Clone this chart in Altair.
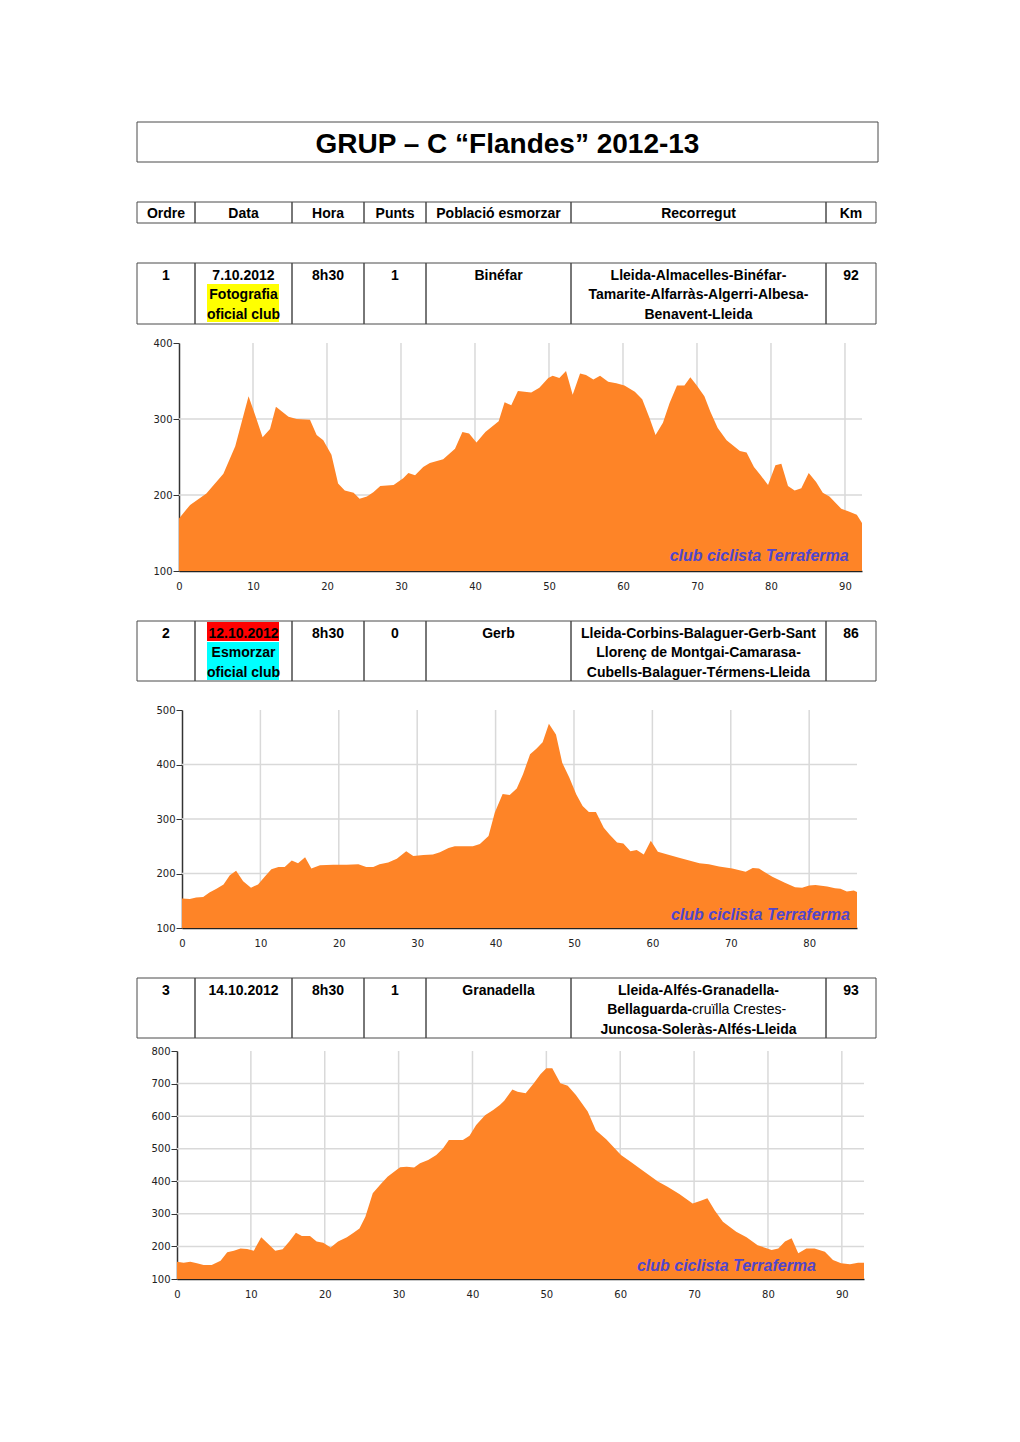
import altair as alt
import pandas as pd

# ---------------- data ----------------
title_text = "GRUP – C “Flandes” 2012-13"
header_labels = ["Ordre", "Data", "Hora", "Punts", "Població esmorzar", "Recorregut", "Km"]

ordre = ["1", "2", "3"]
dates = ["7.10.2012", "12.10.2012", "14.10.2012"]
date_notes = [["Fotografia", "oficial club"], ["Esmorzar", "oficial club"], []]
hores = ["8h30", "8h30", "8h30"]
punts = ["1", "0", "1"]
poblacions = ["Binéfar", "Gerb", "Granadella"]
recorreguts = [
    ["Lleida-Almacelles-Binéfar-", "Tamarite-Alfarràs-Algerri-Albesa-", "Benavent-Lleida"],
    ["Lleida-Corbins-Balaguer-Gerb-Sant", "Llorenç de Montgai-Camarasa-", "Cubells-Balaguer-Térmens-Lleida"],
    ["Lleida-Alfés-Granadella-", None, "Juncosa-Soleràs-Alfés-Lleida"],
]
rec3_mid_bold = "Bellaguarda-"
rec3_mid_regular = "cruïlla Crestes-"
kms = ["92", "86", "93"]
watermark = "club ciclista Terraferma"

route1_km = [0, 1.5, 3.7, 6.0, 7.6, 9.4, 10.3, 11.3, 12.3, 13.1, 14.8, 15.9, 17.7, 18.6, 19.5, 20.6,
             21.5, 22.4, 23.6, 24.4, 25.4, 26.3, 27.2, 29.0, 30.3, 31.0, 31.9, 33.0, 33.9, 35.7, 37.3,
             38.3, 39.2, 40.2, 41.4, 43.2, 44.0, 44.9, 45.8, 47.6, 48.7, 49.9, 50.5, 51.4, 52.3, 53.2,
             54.2, 55.0, 56.0, 56.9, 58.0, 59.1, 60.2, 61.6, 62.6, 63.6, 64.4, 65.4, 66.3, 67.3, 68.3,
             69.1, 69.9, 71.0, 71.8, 72.8, 74.0, 75.8, 76.7, 77.7, 78.6, 79.6, 80.6, 81.4, 82.3, 83.2,
             84.1, 85.1, 86.1, 87.0, 87.9, 89.5, 90.6, 91.6, 92.3]
route1_elev = [169, 187, 202, 228, 264, 330, 305, 276, 287, 316, 303, 300, 299, 279, 272, 253,
               215, 206, 203, 195, 198, 204, 212, 213, 222, 229, 226, 237, 242, 247, 261,
               283, 281, 269, 283, 297, 322, 318, 337, 335, 341, 354, 357, 354, 363, 332,
               360, 358, 352, 357, 349, 347, 344, 336, 326, 301, 279, 295, 321, 344, 344,
               355, 345, 330, 310, 288, 272, 258, 256, 237, 226, 213, 239, 241, 212, 206,
               209, 229, 217, 203, 198, 182, 178, 174, 163]

route2_km = [0, 1.0, 1.8, 2.7, 3.5, 4.4, 5.3, 6.1, 6.9, 7.8, 8.8, 9.7, 10.6, 11.4, 12.3, 13.1, 14.0,
             14.8, 15.7, 16.5, 17.6, 19.3, 21.0, 22.5, 23.5, 24.4, 25.2, 26.3, 27.4, 28.6, 29.5, 30.8,
             32.0, 32.9, 34.0, 34.8, 37.1, 38.0, 39.1, 39.9, 40.9, 41.8, 42.7, 43.5, 44.4, 45.2, 46.0,
             46.8, 47.7, 48.5, 49.4, 50.3, 51.1, 51.9, 52.8, 53.8, 54.5, 55.5, 56.3, 57.2, 58.0, 58.9,
             59.8, 60.7, 61.7, 63.4, 64.7, 66.0, 67.2, 68.5, 70.2, 71.9, 72.8, 73.6, 75.3, 76.9, 78.2,
             79.1, 80.0, 80.8, 82.3, 83.3, 84.0, 84.8, 85.7, 86.1]
route2_elev = [154, 153, 156, 157, 165, 172, 180, 197, 205, 186, 174, 180, 195, 208, 212, 212, 224,
               219, 230, 209, 215, 216, 216, 217, 212, 212, 217, 220, 227, 241, 232, 234,
               235, 239, 247, 250, 250, 254, 269, 312, 346, 344, 356, 382, 419, 429, 441,
               475, 455, 403, 376, 345, 324, 313, 313, 284, 272, 257, 255, 241, 243, 235,
               260, 240, 236, 229, 224, 219, 217, 213, 209, 203, 210, 209, 194, 183, 175,
               174, 178, 179, 176, 173, 172, 167, 169, 166]

route3_km = [0, 0.9, 1.8, 2.7, 3.6, 4.7, 5.9, 6.8, 7.7, 8.6, 9.5, 10.4, 11.4, 12.4, 13.3, 14.3, 15.2,
             16.1, 16.9, 18.0, 18.9, 19.8, 20.8, 21.8, 23.0, 23.9, 24.7, 25.5, 26.5, 27.5, 28.5, 29.7,
             30.2, 31.1, 32.1, 32.9, 34.0, 35.1, 36.0, 36.8, 38.7, 39.6, 40.5, 41.7, 42.8, 43.7, 44.3,
             45.4, 46.1, 47.2, 48.3, 49.2, 50.0, 50.8, 51.9, 52.9, 54.0, 55.6, 56.7, 58.1, 60.1, 61.4,
             62.8, 65.1, 66.4, 68.0, 69.8, 70.9, 71.8, 72.8, 73.9, 75.7, 77.1, 78.6, 80.5, 81.4, 82.3,
             83.2, 84.1, 85.2, 86.3, 87.7, 88.8, 89.9, 91.1, 92.2, 93.0]
route3_elev = [153, 150, 153, 148, 143, 143, 156, 182, 187, 194, 192, 187, 228, 207, 187, 191, 215,
               242, 232, 232, 215, 211, 197, 215, 228, 242, 255, 291, 363, 389, 414, 435,
               443, 445, 442, 455, 465, 481, 501, 527, 527, 540, 573, 603, 619, 634, 647,
               682, 675, 670, 701, 729, 747, 747, 701, 693, 665, 614, 557, 529, 481, 460,
               437, 399, 383, 361, 332, 340, 348, 310, 276, 245, 228, 204, 189, 194, 215,
               225, 179, 194, 194, 184, 158, 148, 145, 150, 150]

# ---------------- style / layout ----------------
FONT = "Liberation Sans, Arial, sans-serif"
ORANGE = "#FE8427"
GRID = "#D9D9D9"
INK = "#222222"
BORDER = "#4a4a4a"
WM_COLOR = "#5046CC"
HL = {"yellow": "#FFFF00", "red": "#FF0000", "cyan": "#00FFFF"}
row_highlights = [{1: "yellow", 2: "yellow"}, {0: "red", 1: "cyan", 2: "cyan"}, {}]

COL_EDGES = [0, 58, 155, 227, 289, 434, 689, 739]
COL_CENTERS = [(a + b) / 2 for a, b in zip(COL_EDGES[:-1], COL_EDGES[1:])]
LINE_BASE = [16.5, 36, 55.5]
LINE_BAND = [(1, 20), (21, 40), (40, 59)]
HL_X = (70, 142)
SPLIT_X = 555
FS = 14

SECTIONS = [
    dict(km=route1_km, elev=route1_elev, xmax=92.3, ymin=100, ymax=400,
         yticks=[100, 200, 300, 400], ygrid=[200, 300], xgrid=list(range(10, 91, 10)),
         xticks=list(range(0, 91, 10)), wm=(90.5, 113), off=42, W=683, H=228, dy=-80, th=61),
    dict(km=route2_km, elev=route2_elev, xmax=86.1, ymin=100, ymax=500,
         yticks=[100, 200, 300, 400, 500], ygrid=[200, 300, 400], xgrid=list(range(10, 81, 10)),
         xticks=list(range(0, 81, 10)), wm=(85.2, 115), off=45, W=675, H=218, dy=-89, th=60),
    dict(km=route3_km, elev=route3_elev, xmax=93.0, ymin=100, ymax=800,
         yticks=list(range(100, 801, 100)), ygrid=list(range(200, 701, 100)), xgrid=list(range(10, 91, 10)),
         xticks=list(range(0, 91, 10)), wm=(86.5, 124), off=40, W=687, H=228, dy=-73, th=60),
]


def text_layer(df, sx, sy, weight="bold", align="center", size=FS):
    return alt.Chart(df).mark_text(font=FONT, fontWeight=weight, fontSize=size, align=align,
                                   baseline="alphabetic", color="black").encode(
        x=alt.X("x:Q", scale=sx, axis=None),
        y=alt.Y("y:Q", scale=sy, axis=None),
        text=alt.Text("t:N"))


def cell_layer(df, sx, sy):
    return alt.Chart(df).mark_rect(fillOpacity=0, stroke=BORDER, strokeWidth=1).encode(
        x=alt.X("x0:Q", scale=sx, axis=None), x2="x1:Q",
        y=alt.Y("y0:Q", scale=sy, axis=None), y2="y1:Q")


def make_table(r, sec):
    th = sec["th"]
    sx = alt.Scale(domain=[0, COL_EDGES[-1]], range=[0, COL_EDGES[-1]], nice=False, zero=False)
    sy = alt.Scale(domain=[0, th], range=[sec["dy"], sec["dy"] + th], nice=False, zero=False)
    layers = []
    hl = row_highlights[r]
    if hl:
        hdf = pd.DataFrame({
            "x0": [HL_X[0]] * len(hl), "x1": [HL_X[1]] * len(hl),
            "y0": [LINE_BAND[i][0] for i in hl], "y1": [LINE_BAND[i][1] for i in hl],
            "c": [HL[c] for c in hl.values()]})
        layers.append(alt.Chart(hdf).mark_rect().encode(
            x=alt.X("x0:Q", scale=sx, axis=None), x2="x1:Q",
            y=alt.Y("y0:Q", scale=sy, axis=None), y2="y1:Q",
            color=alt.Color("c:N", scale=None)))
    cells = pd.DataFrame({"x0": COL_EDGES[:-1], "x1": COL_EDGES[1:],
                          "y0": [0] * 7, "y1": [th] * 7})
    layers.append(cell_layer(cells, sx, sy))
    xs, ys, ts = [], [], []

    def add(col, line, t):
        xs.append(COL_CENTERS[col]); ys.append(LINE_BASE[line]); ts.append(t)

    add(0, 0, ordre[r])
    add(1, 0, dates[r])
    for i, n in enumerate(date_notes[r]):
        add(1, i + 1, n)
    add(2, 0, hores[r])
    add(3, 0, punts[r])
    add(4, 0, poblacions[r])
    for i, t in enumerate(recorreguts[r]):
        if t is not None:
            add(5, i, t)
    add(6, 0, kms[r])
    layers.append(text_layer(pd.DataFrame({"x": xs, "y": ys, "t": ts}), sx, sy))
    if recorreguts[r][1] is None:
        layers.append(text_layer(pd.DataFrame({"x": [SPLIT_X], "y": [LINE_BASE[1]], "t": [rec3_mid_bold]}),
                                 sx, sy, "bold", "right"))
        layers.append(text_layer(pd.DataFrame({"x": [SPLIT_X], "y": [LINE_BASE[1]], "t": [rec3_mid_regular]}),
                                 sx, sy, "normal", "left"))
    return alt.layer(*layers)


def make_plot(sec):
    off, W = sec["off"], sec["W"]
    sx = alt.Scale(domain=[0, sec["xmax"]], range=[off, off + W], nice=False, zero=False)
    sy = alt.Scale(domain=[sec["ymin"], sec["ymax"]], nice=False, zero=False)
    ax_x = alt.Axis(orient="bottom", title=None, values=sec["xticks"], grid=False, ticks=False,
                    labelPadding=10, labelFlush=False, labelOverlap=False, labelFont="DejaVu Sans",
                    labelFontSize=10, labelColor=INK, domainColor=INK, domainWidth=1.5)
    ax_y = alt.Axis(orient="left", offset=-off, title=None, values=sec["yticks"], grid=False,
                    tickSize=6, tickColor="#333333", labelPadding=1, labelFlush=False,
                    labelOverlap=False, labelFont="DejaVu Sans", labelFontSize=10, labelColor=INK,
                    domainColor="#333333", domainWidth=1.5)
    vg = pd.DataFrame({"km": sec["xgrid"], "elev": [sec["ymin"]] * len(sec["xgrid"]),
                       "hi": [sec["ymax"]] * len(sec["xgrid"])})
    hg = pd.DataFrame({"elev": sec["ygrid"], "km": [0] * len(sec["ygrid"]),
                       "r": [sec["xmax"]] * len(sec["ygrid"])})
    prof = pd.DataFrame({"km": sec["km"], "elev": sec["elev"]})
    wm = pd.DataFrame({"km": [sec["wm"][0]], "elev": [sec["wm"][1]], "t": [watermark]})

    X = alt.X("km:Q", scale=sx, axis=ax_x)
    Y = alt.Y("elev:Q", scale=sy, axis=ax_y)
    vgrid = alt.Chart(vg).mark_rule(color=GRID, strokeWidth=1.5).encode(x=X, y=Y, y2="hi:Q")
    hgrid = alt.Chart(hg).mark_rule(color=GRID, strokeWidth=1.5).encode(x=X, y=Y, x2="r:Q")
    area = alt.Chart(prof).mark_area(color=ORANGE, opacity=1).encode(
        x=X, y=Y, y2=alt.datum(sec["ymin"]))
    wmark = alt.Chart(wm).mark_text(font=FONT, fontSize=16, fontWeight="bold", fontStyle="italic",
                                    color=WM_COLOR, align="right", baseline="alphabetic").encode(
        x=X, y=Y, text=alt.Text("t:N"))
    return alt.layer(vgrid, hgrid, area, wmark)


# header chart
HW, HH = 741, 111
hx = alt.Scale(domain=[0, HW], nice=False, zero=False)
hy = alt.Scale(domain=[0, HH], reverse=True, nice=False, zero=False)
title_box = cell_layer(pd.DataFrame({"x0": [0], "x1": [HW], "y0": [0], "y1": [40]}), hx, hy)
title_mark = text_layer(pd.DataFrame({"x": [HW / 2], "y": [31], "t": [title_text]}), hx, hy, size=28)
hdr_cells = cell_layer(pd.DataFrame({"x0": COL_EDGES[:-1], "x1": COL_EDGES[1:],
                                     "y0": [80] * 7, "y1": [101] * 7}), hx, hy)
hdr_text = text_layer(pd.DataFrame({"x": COL_CENTERS, "y": [95.5] * 7, "t": header_labels}), hx, hy)
header = alt.layer(title_box, title_mark, hdr_cells, hdr_text).properties(width=HW, height=HH)

sections = []
for r, sec in enumerate(SECTIONS):
    s = alt.layer(make_table(r, sec), make_plot(sec)).resolve_scale(
        x="independent", y="independent").properties(width=sec["off"] + sec["W"], height=sec["H"])
    sections.append(s)

chart = alt.vconcat(header, *sections, spacing=29).properties(
    padding={"left": 128, "top": 113, "right": 5, "bottom": 5}, background="white"
).configure_view(stroke=None)

chart.save("out.html", embed_options={"renderer": "svg", "actions": False})
